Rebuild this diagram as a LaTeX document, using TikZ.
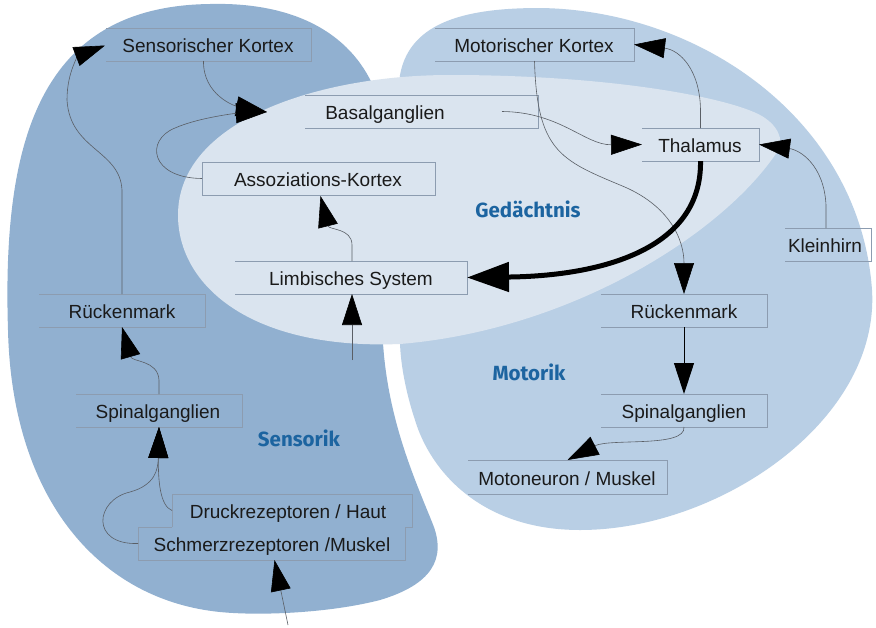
\documentclass[tikz,border=0pt]{standalone}
\usepackage{fontspec}
\setmainfont{Liberation Sans}
\newfontfamily\labfont{Fira Sans}
\usetikzlibrary{arrows.meta,calc}
\definecolor{sens}{HTML}{91B0D0}
\definecolor{moto}{HTML}{B9CFE5}
\definecolor{gedae}{HTML}{DAE4EF}
\definecolor{boxline}{HTML}{8C9CB0}
\definecolor{conncol}{HTML}{5A5F66}
\definecolor{labblue}{HTML}{1C64A0}
\definecolor{txt}{HTML}{1A1A1A}
\tikzset{
  bxnode/.style={inner sep=0pt, outer sep=0pt},
  lbl/.style={inner sep=0pt, text=txt, font=\fontsize{19}{21}\selectfont, text height=19pt, text depth=3pt},
  edge/.style={draw=boxline, line width=1pt},
  region/.style={text=labblue, font=\labfont\bfseries\fontsize{20.5}{22}\selectfont, inner sep=0pt},
  conn/.style={draw=conncol, line width=0.6pt, -{Triangle[length=31pt,width=20pt,black]}},
  thick conn/.style={draw=black, line width=5pt, -{Triangle[length=42pt,width=29pt,black]}}
}
\begin{document}
\begin{tikzpicture}[x=1pt,y=-1pt]
\useasboundingbox[fill=white] (0,0) rectangle (876,627);
% regions
\fill[sens] (210,4) .. controls (290,2) and (350,30) .. (375,90) -- (383,343)
  .. controls (388,420) and (415,480) .. (432,522) .. controls (448,560) and (430,585) .. (380,600)
  .. controls (330,613) and (260,616) .. (220,612) .. controls (100,600) and (12,500) .. (8,330)
  .. controls (2,140) and (40,6) .. (210,4) -- cycle;
\fill[moto] (400,75) .. controls (410,20) and (470,8) .. (540,8) .. controls (700,10) and (860,120) .. (872,290)
  .. controls (880,420) and (720,530) .. (580,530) .. controls (480,530) and (430,470) .. (415,420)
  .. controls (405,390) and (400,360) .. (400,340) -- (398,100) -- cycle;
\fill[gedae] (450,75) .. controls (620,75) and (740,100) .. (765,118) .. controls (782,130) and (784,145) .. (775,155)
  .. controls (720,235) and (570,330) .. (400,344) .. controls (250,350) and (178,285) .. (178,215)
  .. controls (178,120) and (320,75) .. (450,75) -- cycle;
% region labels
\node[region] (lged) at (528,209) {Gedächtnis};
\node[region] (lmot) at (529,372) {Motorik};
\node[region] (lsen) at (299,438) {Sensorik};
% boxes
\node[bxnode, minimum width=205pt, minimum height=33pt] (SK) at (208.5,44.5) {};
\node[bxnode, minimum width=233pt, minimum height=33pt] (BG) at (421.5,111.5) {};
\node[bxnode, minimum width=233pt, minimum height=33pt] (AK) at (318.5,178.5) {};
\node[bxnode, minimum width=232pt, minimum height=33pt] (LS) at (351,277.5) {};
\node[bxnode, minimum width=199pt, minimum height=33pt] (MK) at (534.5,44.5) {};
\node[bxnode, minimum width=117pt, minimum height=33pt] (TH) at (700.5,144.5) {};
\node[bxnode, minimum width=86pt, minimum height=33pt] (KH) at (828,244.5) {};
\node[bxnode, minimum width=166pt, minimum height=33pt] (RMr) at (684,310.5) {};
\node[bxnode, minimum width=166pt, minimum height=33pt] (SGr) at (684,410.5) {};
\node[bxnode, minimum width=199pt, minimum height=34pt] (MM) at (567.5,477) {};
\node[bxnode, minimum width=166pt, minimum height=33pt] (RMl) at (122,310.5) {};
\node[bxnode, minimum width=166pt, minimum height=33pt] (SGl) at (159,410.5) {};
\node[bxnode, minimum width=240pt, minimum height=33pt] (DR) at (292,510.5) {};
\node[bxnode, minimum width=267pt, minimum height=33pt] (SR) at (271.5,543.5) {};
% box outlines
\foreach \n in {SK,BG,LS,MK,TH,KH,RMr,SGr,MM,RMl,SGl}{
  \draw[edge] (\n.north west) -- (\n.north east) -- (\n.south east) -- (\n.south west);
}
\draw[edge] (AK.north west) rectangle (AK.south east);
\draw[edge] (DR.south west) -- (DR.north west) -- (DR.north east) -- (DR.south east) -- (SR.north east)
  -- (SR.south east) -- (SR.south west) -- (SR.north west) -- (DR.south west);
% texts
\node[lbl] at (208,44.5) {Sensorischer Kortex};
\node[lbl] at (385,111.5) {Basalganglien};
\node[lbl] at (318,178.5) {Assoziations-Kortex};
\node[lbl] at (351,277.5) {Limbisches System};
\node[lbl] at (534,44.5) {Motorischer Kortex};
\node[lbl] at (700,144.5) {Thalamus};
\node[lbl] at (825,244.5) {Kleinhirn};
\node[lbl] at (684,310.5) {Rückenmark};
\node[lbl] at (684,410.5) {Spinalganglien};
\node[lbl] at (567,477) {Motoneuron / Muskel};
\node[lbl] at (122,310.5) {Rückenmark};
\node[lbl] at (158,410.5) {Spinalganglien};
\node[lbl] at (288,510.5) {Druckrezeptoren / Haut};
\node[lbl] at (272,543.5) {Schmerzrezeptoren /Muskel};
% free ends
\coordinate (limbin) at (352,360);
\coordinate (schmin) at (288,625);
% connectors
\draw[conn] (RMl.north) -- (122,190) .. controls (120,150) and (70,150) .. (67,100)
  .. controls (67,70) and (80,55) .. ($(SK.west)+(-1,1)$);
\draw[conn] ($(SK.south)+(-5,0)$) .. controls (203,95) and (235,106) .. ($(BG.west)+(-38,0.5)$);
\draw[conn] (AK.west) .. controls (150,178) and (145,140) .. (175,128)
  .. controls (200,117) and (240,113) .. ($(BG.west)+(-38,0.5)$);
\draw[conn] ($(LS.north)+(1,0)$) -- (352,245) .. controls (352,228) and (329,230) .. ($(AK.south)+(2,1)$);
\draw[conn] (limbin) -- ($(LS.south)+(1,0)$);
\draw[conn] ($(BG.east)+(-36,0)$) .. controls (560,112) and (585,145) .. (TH.west);
\draw[conn] (MK.south) .. controls (537,150) and (560,160) .. (620,185)
  .. controls (670,205) and (684,240) .. (RMr.north);
\draw[conn] (TH.north) -- (700.5,110) .. controls (700,70) and (680,50) .. (MK.east);
\draw[conn] ($(KH.north)+(-2,0)$) -- (826,205) .. controls (824,165) and (800,150) .. (TH.east);
\draw[thick conn] (TH.south) .. controls (702,250) and (600,276) .. (LS.east);
\draw[conn, draw=black, line width=1pt] (RMr.south) -- (SGr.north);
\draw[conn] (SGr.south) .. controls (686,448) and (610,438) .. (MM.north);
\draw[conn] (SGl.north) -- (159,380) .. controls (158,360) and (132,362) .. (RMl.south);
\draw[conn] (DR.west) .. controls (160,506) and (158,480) .. (SGl.south);
\draw[conn] (SR.west) .. controls (90,545) and (95,500) .. (130,492)
  .. controls (155,485) and (158,470) .. (SGl.south);
\draw[conn] (schmin) -- ($(SR.south)+(3,0)$);
\end{tikzpicture}
\end{document}
